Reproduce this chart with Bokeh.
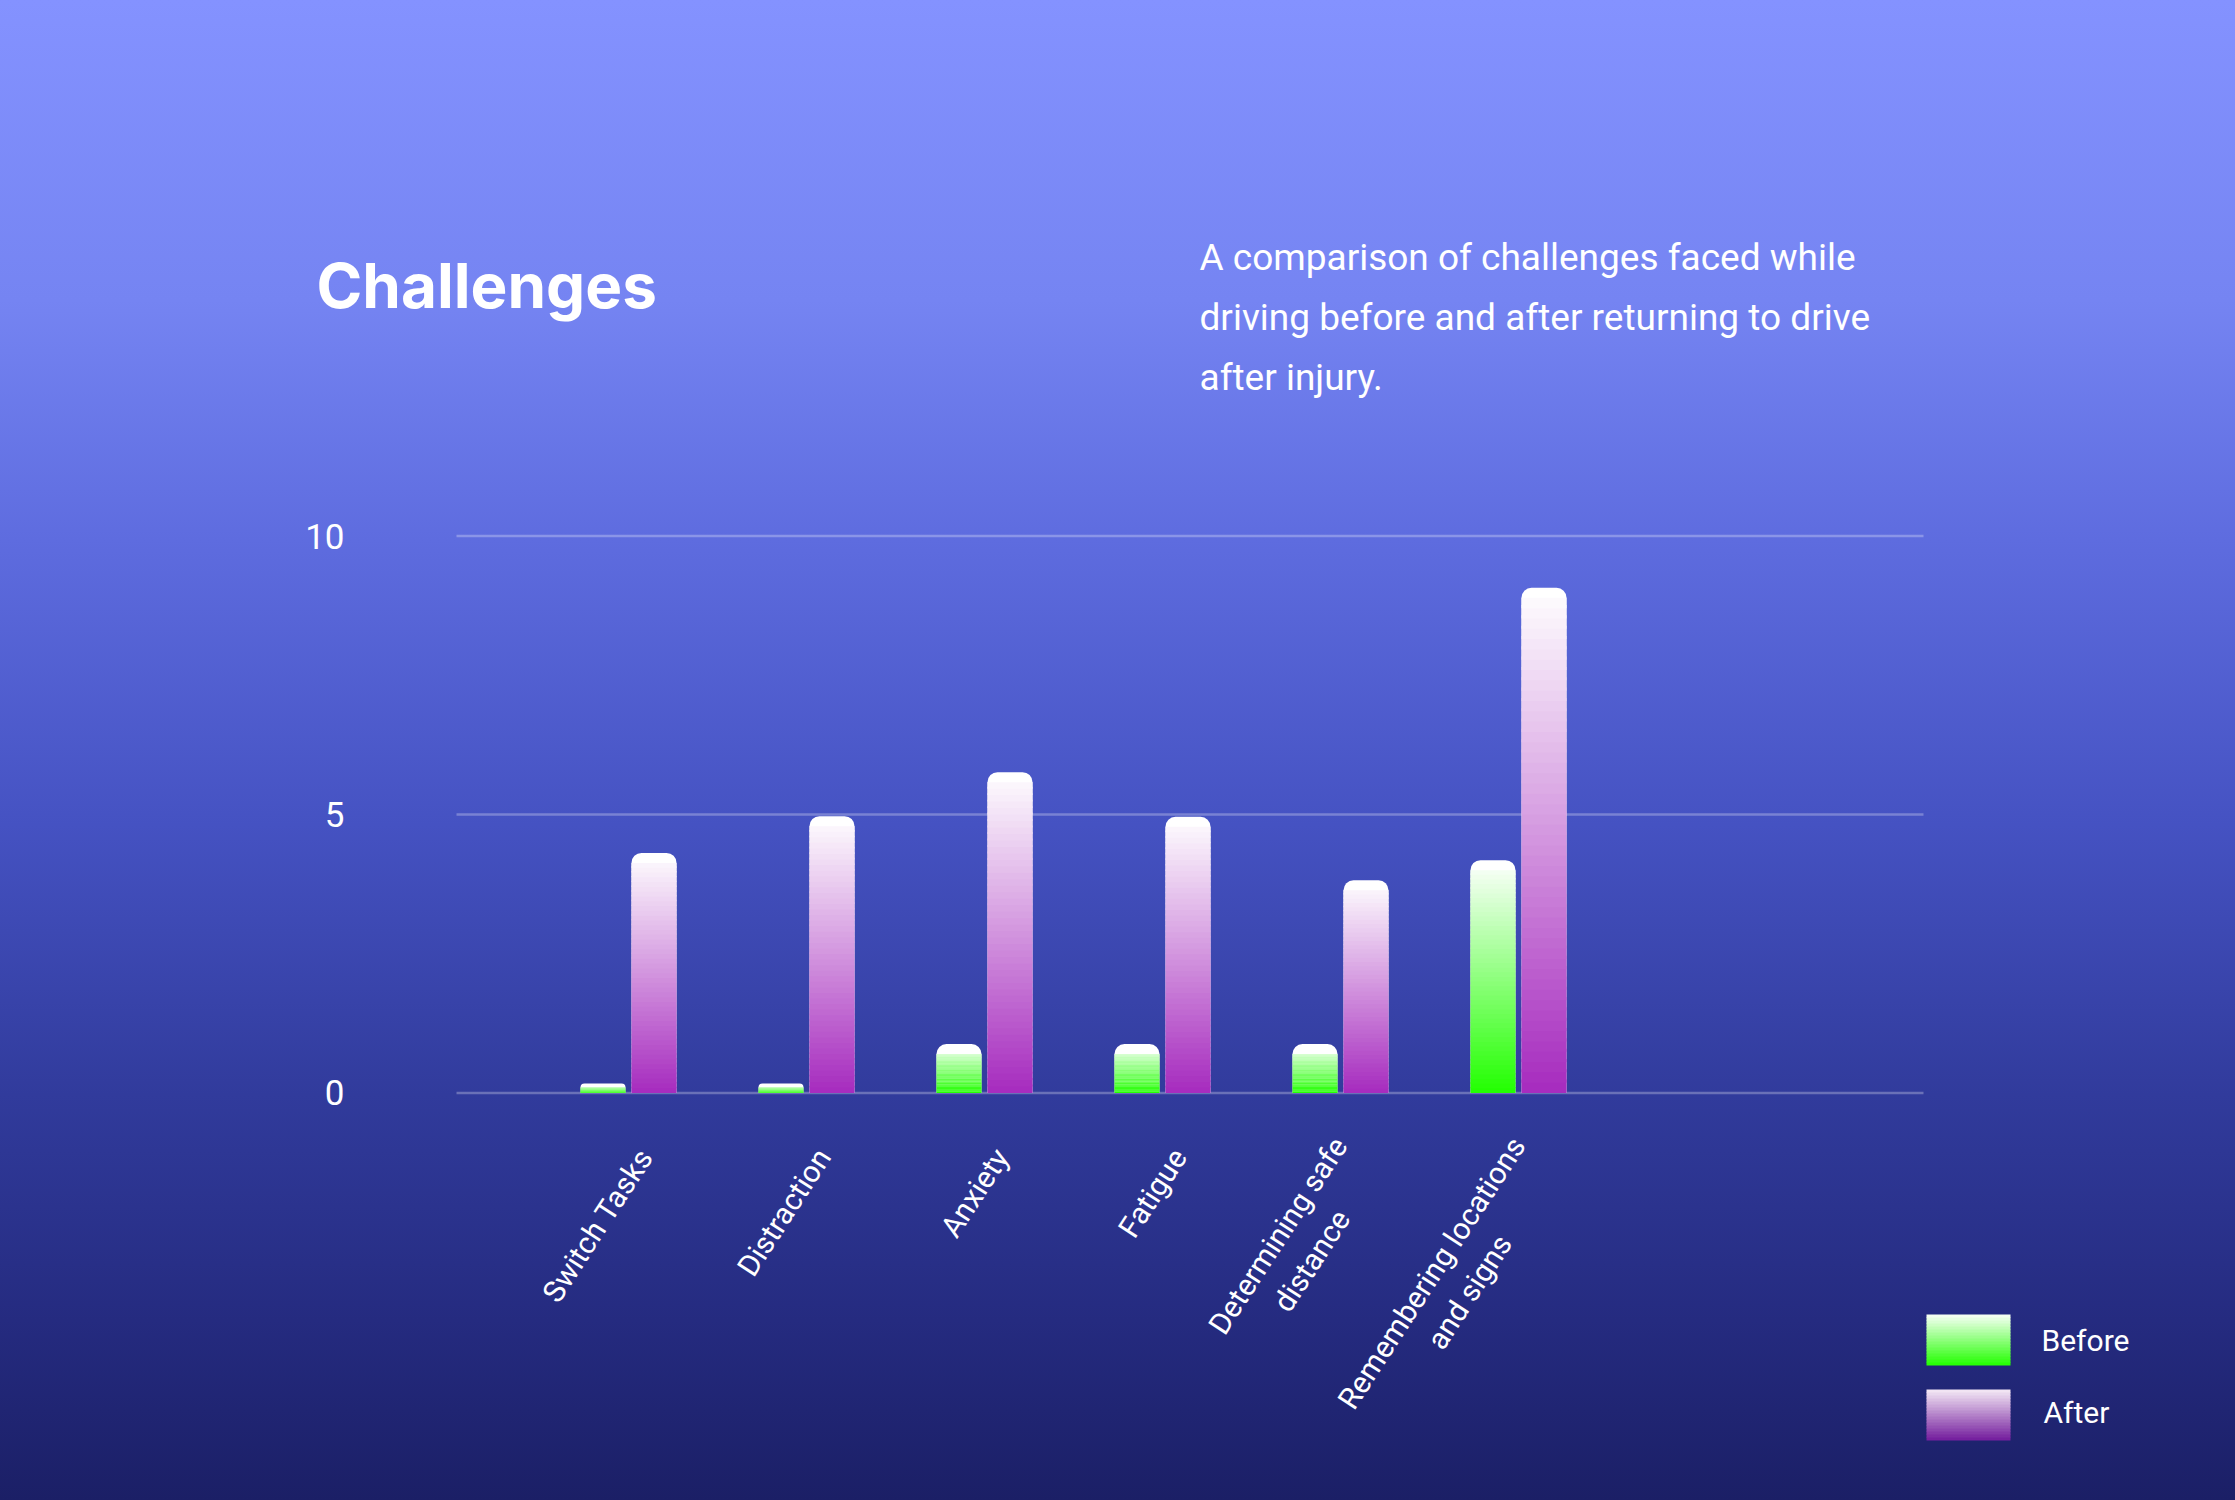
import numpy as np
from bokeh.plotting import figure
from bokeh.models import Range1d, FixedTicker, Label, BoxAnnotation, LinearAxis
from bokeh.embed import file_html
from bokeh.resources import INLINE

# ---------------- data ----------------
categories = ["Switch Tasks", "Distraction", "Anxiety", "Fatigue",
              "Determining safe\ndistance", "Remembering locations\nand signs"]
before = [0.17, 0.17, 0.88, 0.88, 0.88, 4.18]
after = [4.31, 4.97, 5.76, 4.96, 3.82, 9.07]
y_ticks = [0, 5, 10]
series_names = ["Before", "After"]
title_text = "Challenges"
subtitle_lines = ["A comparison of challenges faced while",
                  "driving before and after returning to drive",
                  "after injury."]

# ---------------- layout constants ----------------
W, H = 2235, 1500
FL, FR, FT, FB = 456, 1923, 446, 1099      # chart area (pixels)
X0, X1 = -0.9663, 7.2753                   # data values at FL / FR
Y0, Y1 = -0.1167, 11.607                   # data values at FB / FT
PPX = (FR - FL) / (X1 - X0)
PPU = (FB - FT) / (Y1 - Y0)
XS, XE = X0 - FL / PPX, X0 + (W - FL) / PPX
YS, YE = Y0 - (H - FB) / PPU, Y0 + FB / PPU
BAR_W = 0.253
OFFSET = 0.1433
LABEL_SHIFT = 0.095

def dx(px):
    return X0 + (px - FL) / PPX

def dy(py):
    return Y0 + (FB - py) / PPU

def lerp(c0, c1, t):
    t = max(0.0, min(1.0, t))
    r = int(round(c0[0] + (c1[0] - c0[0]) * t))
    g = int(round(c0[1] + (c1[1] - c0[1]) * t))
    b = int(round(c0[2] + (c1[2] - c0[2]) * t))
    return "#%02x%02x%02x" % (r, g, b)

# approximate Roboto advance widths (em) to centre the 2nd line of wrapped tick labels
ADV = {"a": .544, "b": .548, "c": .511, "d": .550, "e": .517, "f": .346, "g": .548, "h": .539,
       "i": .242, "k": .49, "l": .242, "m": .855, "n": .539, "o": .556, "r": .338, "s": .504,
       "t": .320, "u": .539, "w": .72, "x": .48, "y": .47, " ": .248,
       "A": .652, "D": .654, "F": .55, "R": .615, "S": .594, "T": .598}

def text_w(s):
    return sum(ADV.get(ch, 0.55) for ch in s)

def centred(label):
    lines = label.split("\n")
    wmax = max(text_w(l) for l in lines)
    out = []
    for l in lines:
        n = int(round((wmax - text_w(l)) / 2 / ADV[" "]))
        out.append(l + "\u00a0" * n)
    return "\n".join(out)

WHITE = (255, 255, 255)
GREEN = (34, 255, 0)
PURPLE = (166, 43, 190)

p = figure(width=W, height=H, output_backend="svg", toolbar_location=None,
           x_range=Range1d(XS, XE), y_range=Range1d(YS, YE),
           x_axis_location=None, y_axis_location=None,
           min_border=0, min_border_left=0, min_border_right=0,
           min_border_top=0, min_border_bottom=0)
p.border_fill_color = None
p.background_fill_color = None
p.outline_line_color = None
p.xgrid.visible = False
p.ygrid.visible = False
p.styles = {"background-image": "linear-gradient(180deg, #8492FF 0%, #7584F2 20%, #5E6CDF 36%, "
                                "#4552C2 55%, #313B9C 73%, #252B80 88%, #1B1F66 100%)"}

# horizontal grid lines across the chart area
p.segment(x0=[dx(FL)] * len(y_ticks), x1=[dx(FR)] * len(y_ticks), y0=y_ticks, y1=y_ticks,
          line_color="white", line_alpha=0.28, line_width=2.5)

# y axis
yaxis = LinearAxis(ticker=FixedTicker(ticks=y_ticks), fixed_location=dx(FL))
yaxis.axis_line_color = None
yaxis.major_tick_line_color = None
yaxis.minor_tick_line_color = None
yaxis.major_label_text_color = "white"
yaxis.major_label_text_font = "Roboto"
yaxis.major_label_text_font_size = "35px"
yaxis.major_label_standoff = 106
p.add_layout(yaxis, "left")

# x axis (category labels) on a slightly shifted label range
p.extra_x_ranges = {"labels": Range1d(XS - LABEL_SHIFT, XE - LABEL_SHIFT)}
xaxis = LinearAxis(x_range_name="labels", fixed_location=dy(FB),
                   ticker=FixedTicker(ticks=list(range(len(categories)))),
                   major_label_overrides={i: centred(c) for i, c in enumerate(categories)})
xaxis.axis_line_color = None
xaxis.major_tick_line_color = None
xaxis.minor_tick_line_color = None
xaxis.major_label_orientation = np.deg2rad(57)
xaxis.major_label_text_color = "white"
xaxis.major_label_text_font = "Roboto"
xaxis.major_label_text_font_size = "30px"
xaxis.major_label_standoff = 46
p.add_layout(xaxis, "below")

# bars with vertical gradients
N = 48
for vals, off, col in [(before, -OFFSET, GREEN), (after, OFFSET, PURPLE)]:
    xs, bots, tops, cols = [], [], [], []
    for i, v in enumerate(vals):
        hpx = v * PPU
        r = int(min(10, hpx / 2))
        p.vbar(x=[i + off], width=BAR_W, bottom=[0], top=[v],
               fill_color="white", line_color=None, border_radius=(r, r, 0, 0))
        lim = v - r / PPU
        for k in range(N):
            b0 = lim * k / N
            t0 = lim * (k + 1) / N
            xs.append(i + off)
            bots.append(b0)
            tops.append(t0 + (lim / N) * 0.3 if k < N - 1 else t0)
            cols.append(lerp(col, WHITE, ((b0 + t0) / 2) / v))
    p.vbar(x=xs, width=BAR_W, bottom=bots, top=tops, fill_color=cols, line_color=None)

# title and subtitle
p.add_layout(Label(x=dx(316), y=dy(285), text=title_text, text_color="white",
                   text_font="Inter", text_font_style="bold", text_font_size="62px",
                   text_baseline="alphabetic"))
for j, line in enumerate(subtitle_lines):
    p.add_layout(Label(x=dx(1199), y=dy(257 + 60 * j), text=line, text_color="white",
                       text_font="Roboto", text_font_size="37px",
                       text_baseline="alphabetic"))

# legend (gradient swatches + labels)
LEG_SW = [(1314, 1365, GREEN, (250, 255, 248)), (1389, 1440, (114, 27, 156), (245, 234, 246))]
LEG_TXT = [(2041, 1340), (2043, 1412)]
S = 17
for (y0, y1, cb, ct), name, (tx, ty) in zip(LEG_SW, series_names, LEG_TXT):
    hh = (y1 - y0) / S
    for k in range(S):
        top_py = y0 + hh * k
        bot_py = min(y0 + hh * (k + 1) + 0.6, y1)
        p.add_layout(BoxAnnotation(left=dx(1926), right=dx(2010), top=dy(top_py), bottom=dy(bot_py),
                                   fill_color=lerp(ct, cb, (k + 0.5) / S), fill_alpha=1.0,
                                   line_color=None))
    p.add_layout(Label(x=dx(tx), y=dy(ty), text=name, text_color="white",
                       text_font="Roboto", text_font_size="30px",
                       text_baseline="alphabetic"))

open("out.html", "w").write(file_html(p, INLINE))
